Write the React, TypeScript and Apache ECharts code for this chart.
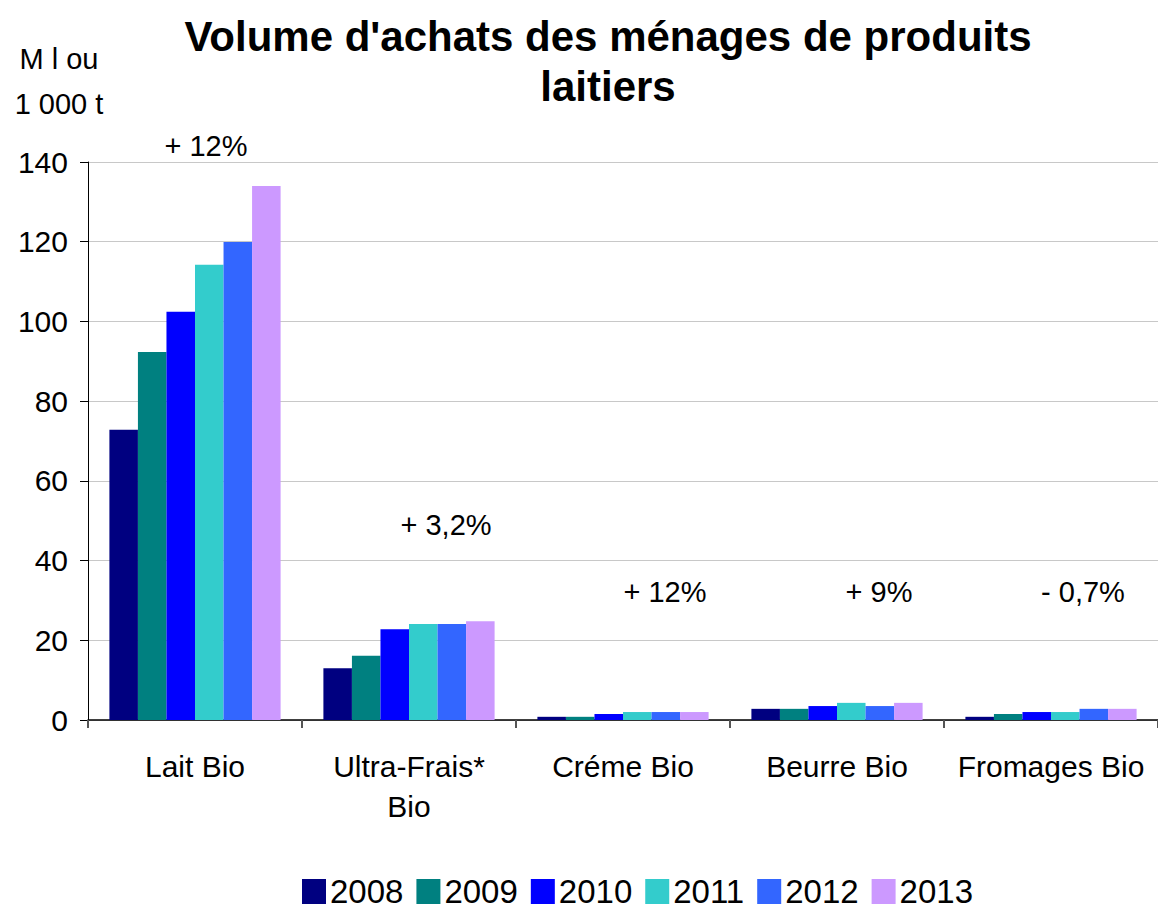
import React, { useEffect, useRef } from "react";
import * as echarts from "echarts";

const categories = ["Lait Bio", "Ultra-Frais*\nBio", "Créme Bio", "Beurre Bio", "Fromages Bio"];
const years = ["2008", "2009", "2010", "2011", "2012", "2013"];
const colors = ["#000080", "#008080", "#0000FF", "#33CCCC", "#3366FF", "#CC99FF"];
const s2008 = [72.8, 13.0, 0.8, 2.8, 0.8];
const s2009 = [92.3, 16.1, 0.8, 2.8, 1.5];
const s2010 = [102.4, 22.8, 1.5, 3.5, 2.0];
const s2011 = [114.2, 24.1, 2.0, 4.3, 2.0];
const s2012 = [119.9, 24.1, 2.0, 3.5, 2.8];
const s2013 = [134.0, 24.8, 2.0, 4.3, 2.8];
const seriesValues = [s2008, s2009, s2010, s2011, s2012, s2013];
const growthLabels = ["+ 12%", "+ 3,2%", "+ 12%", "+ 9%", "- 0,7%"];
const growthLevels = [144, 49, 32, 32, 32];

const FONT = "Arial, 'Liberation Sans', sans-serif";

export default function App() {
  const ref = useRef<HTMLDivElement>(null);
  useEffect(() => {
    if (!ref.current) return;
    const chart = echarts.init(ref.current, null, { renderer: "svg" });
    const labelShift = [11, 37, 42, 42, 32];
    const series: any[] = years.map((y, i) => ({
      name: y,
      type: "bar",
      data: seriesValues[i],
      itemStyle: { color: colors[i] },
      barGap: "0%",
      barCategoryGap: "20%",
    }));
    chart.setOption({
      animation: false,
      textStyle: { fontFamily: FONT },
      title: {
        text: "Volume d'achats des ménages de produits\nlaitiers",
        left: 603,
        textAlign: "center",
        top: 6,
        textStyle: {
          fontSize: 42,
          fontWeight: "bold",
          color: "#000",
          lineHeight: 50,
          fontFamily: FONT,
        },
      },
      legend: {
        data: years,
        bottom: -4,
        left: 297,
        itemWidth: 24,
        itemHeight: 25,
        itemGap: 13,
        icon: "rect",
        textStyle: { fontSize: 33, color: "#000", padding: [0, 0, 0, -1], fontFamily: FONT },
      },
      grid: { left: 88, right: -13, top: 162, bottom: 189, containLabel: false },
      xAxis: {
        type: "category",
        data: categories,
        axisLine: { lineStyle: { color: "#000", width: 1.5 } },
        axisTick: { show: true, length: 8, lineStyle: { color: "#555", width: 2 } },
        axisLabel: {
          interval: 0,
          fontSize: 30,
          color: "#000",
          margin: 26,
          lineHeight: 40,
          fontFamily: FONT,
        },
      },
      yAxis: {
        type: "value",
        min: 0,
        max: 140,
        interval: 20,
        name: "M l ou\n1 000 t",
        nameLocation: "end",
        nameGap: 36,
        nameTextStyle: {
          fontSize: 29,
          color: "#000",
          align: "center",
          lineHeight: 45,
          padding: [0, 0, 0, -58],
          fontFamily: FONT,
        },
        axisLine: { show: true, lineStyle: { color: "#000", width: 1 } },
        axisTick: { show: true, length: 8, lineStyle: { color: "#000" } },
        axisLabel: { fontSize: 30, color: "#000", margin: 20, fontFamily: FONT },
        splitLine: { show: true, lineStyle: { color: "#c8c8c8", width: 1 } },
      },
      series,
    });
    const graphics = growthLabels.map((t, i) => {
      const p = chart.convertToPixel({ gridIndex: 0 }, [i, growthLevels[i]]);
      return {
        type: "text",
        x: p[0] + labelShift[i],
        y: p[1],
        silent: true,
        style: {
          text: t,
          fontSize: 29,
          fill: "#000",
          fontFamily: FONT,
          textAlign: "center",
          textVerticalAlign: "middle",
        },
      };
    });
    chart.setOption({ graphic: graphics });
    return () => chart.dispose();
  }, []);
  return (
    <div
      ref={ref}
      style={{ position: "fixed", left: 0, top: 0, width: 1158, height: 909, background: "#fff" }}
    />
  );
}
